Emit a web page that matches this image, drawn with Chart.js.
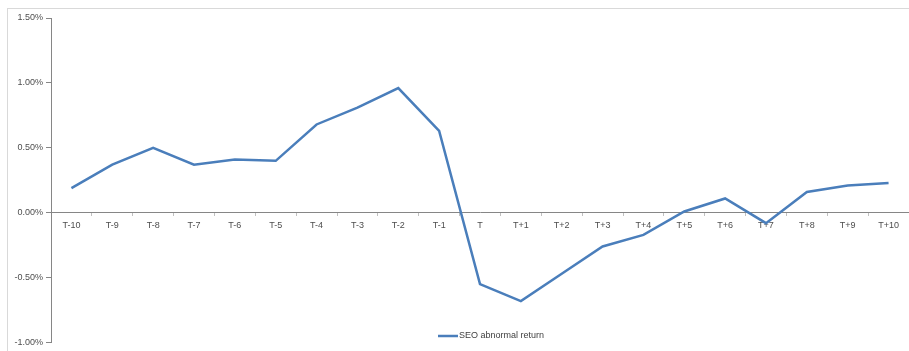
<!DOCTYPE html>
<html>
<head>
<meta charset="utf-8">
<script src="https://cdn.jsdelivr.net/npm/chart.js@4.4.1/dist/chart.umd.min.js"></script>
<style>
  html, body { margin: 0; padding: 0; background: #fff; }
  #wrap { width: 909px; height: 351px; }
</style>
</head>
<body>
<div id="wrap"><canvas id="myChart" width="909" height="351"></canvas></div>
<script>
let days = ['T-10', 'T-9', 'T-8', 'T-7', 'T-6', 'T-5', 'T-4', 'T-3', 'T-2', 'T-1', 'T',
    'T+1', 'T+2', 'T+3', 'T+4', 'T+5', 'T+6', 'T+7', 'T+8', 'T+9', 'T+10'];
// abnormal return, in percent
let seoReturn = [0.19, 0.37, 0.50, 0.37, 0.41, 0.40, 0.68, 0.81, 0.96, 0.63, -0.55,
    -0.68, -0.47, -0.26, -0.17, 0.01, 0.11, -0.08, 0.16, 0.21, 0.23];
let yTicks = [-1.0, -0.5, 0.0, 0.5, 1.0, 1.5];

let lineColor = '#4a7ebb';
let axisColor = '#868686';
let textColor = '#4d4d4d';

// outer frame + legend drawn inside the plot area, like the excel original
let frameAndLegend = {
    id: 'frameAndLegend',
    beforeDraw(chart) {
        let c = chart.ctx;
        c.save();
        c.strokeStyle = '#d9d9d9';
        c.lineWidth = 1;
        c.strokeRect(7.5, 8.5, 1000, 1000);
        c.restore();
    },
    afterDraw(chart) {
        let c = chart.ctx;
        let ds = chart.data.datasets[0];
        c.save();
        c.strokeStyle = ds.borderColor;
        c.lineWidth = 2.5;
        c.beginPath();
        c.moveTo(438, 336);
        c.lineTo(458, 336);
        c.stroke();
        c.fillStyle = '#404040';
        c.font = '9px "Liberation Sans"';
        c.textBaseline = 'middle';
        c.fillText(ds.label, 459, 336);
        c.restore();
    }
};

let ctx = document.getElementById('myChart').getContext('2d');
let myChart = new Chart(ctx, {
    type: 'line',
    data: {
        labels: days,
        datasets: [{
            label: 'SEO abnormal return',
            data: seoReturn,
            borderColor: lineColor,
            borderWidth: 2.5,
            pointRadius: 0,
            tension: 0,
            fill: false
        }]
    },
    options: {
        responsive: false,
        animation: false,
        layout: { padding: { left: 0, right: 0, top: 18, bottom: 8 } },
        plugins: {
            legend: { display: false },
            tooltip: { enabled: false }
        },
        scales: {
            x: {
                position: { y: 0 },
                offset: true,
                grid: {
                    offset: true,
                    drawOnChartArea: false,
                    drawTicks: true,
                    tickLength: 3,
                    color: '#c0c0c0'
                },
                border: { color: axisColor, width: 1 },
                ticks: {
                    color: textColor,
                    padding: 4,
                    maxRotation: 0,
                    autoSkip: false,
                    font: { family: 'Liberation Sans', size: 9 }
                }
            },
            y: {
                min: yTicks[0],
                max: yTicks[yTicks.length - 1],
                afterFit(scale) { scale.width = 51; },
                afterBuildTicks(scale) { scale.ticks = yTicks.map(v => ({ value: v })); },
                grid: {
                    drawOnChartArea: false,
                    drawTicks: true,
                    tickLength: 5,
                    color: axisColor
                },
                border: { color: axisColor, width: 1 },
                ticks: {
                    color: textColor,
                    padding: 3,
                    font: { family: 'Liberation Sans', size: 9 },
                    callback: v => v.toFixed(2) + '%'
                }
            }
        }
    },
    plugins: [frameAndLegend]
});
</script>
</body>
</html>
